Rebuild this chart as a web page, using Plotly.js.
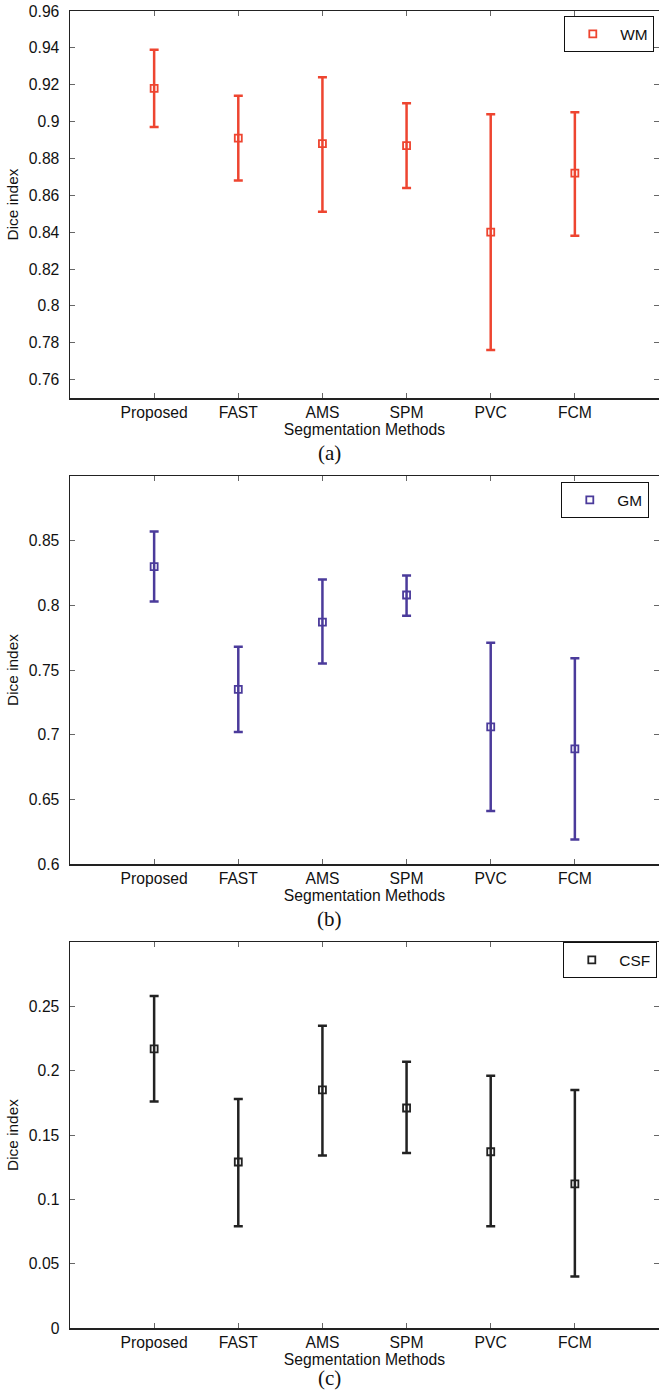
<!DOCTYPE html>
<html>
<head>
<meta charset="utf-8">
<script src="https://cdn.plot.ly/plotly-3.0.1.min.js"></script>
<style>
html,body{margin:0;padding:0;background:#fff;overflow:hidden;}
#chart{width:659px;height:1393px;}
</style>
</head>
<body>
<div id="chart"></div>
<script>
const methods = ["Proposed", "FAST", "AMS", "SPM", "PVC", "FCM"];

const wmMean  = [0.918, 0.891, 0.888, 0.887, 0.840, 0.872];
const wmUpper = [0.939, 0.914, 0.924, 0.910, 0.904, 0.905];
const wmLower = [0.897, 0.868, 0.851, 0.864, 0.776, 0.838];

const gmMean  = [0.830, 0.735, 0.787, 0.808, 0.706, 0.689];
const gmUpper = [0.857, 0.768, 0.820, 0.823, 0.771, 0.759];
const gmLower = [0.803, 0.702, 0.755, 0.792, 0.641, 0.619];

const csfMean  = [0.217, 0.129, 0.185, 0.171, 0.137, 0.112];
const csfUpper = [0.258, 0.178, 0.235, 0.207, 0.196, 0.185];
const csfLower = [0.176, 0.079, 0.134, 0.136, 0.079, 0.040];

const wmTicks  = [0.76, 0.78, 0.8, 0.82, 0.84, 0.86, 0.88, 0.9, 0.92, 0.94, 0.96];
const gmTicks  = [0.6, 0.65, 0.7, 0.75, 0.8, 0.85];
const csfTicks = [0, 0.05, 0.1, 0.15, 0.2, 0.25];

const sans = "Liberation Sans, Arial, sans-serif";
const FS = 15.7;

function trace(name, mean, up, lo, color, xa, ya, leg) {
  return {
    type: "scatter", mode: "markers", name: name,
    x: methods, y: mean, xaxis: xa, yaxis: ya, legend: leg,
    marker: {symbol: "square-open", size: 7, color: color, line: {width: 1.8, color: color}},
    error_y: {
      type: "data", symmetric: false,
      array: up.map((u, i) => u - mean[i]),
      arrayminus: lo.map((l, i) => mean[i] - l),
      color: color, thickness: 2.5, width: 4.5
    },
    showlegend: true
  };
}

const data = [
  trace("WM", wmMean, wmUpper, wmLower, "#ee4530", "x", "y", "legend"),
  trace("GM", gmMean, gmUpper, gmLower, "#4b3b9b", "x2", "y2", "legend2"),
  trace("CSF", csfMean, csfUpper, csfLower, "#222222", "x3", "y3", "legend3")
];

const H = 1393, W = 659;
function ydom(top, bottom) { return [(H - bottom) / H, (H - top) / H]; }

function xax(anchor) {
  return {
    type: "category", range: [-1, 6.0], domain: [70 / W, 1], anchor: anchor,
    showline: true, linecolor: "#222", linewidth: 1.5, mirror: "ticks",
    ticks: "inside", ticklen: 5, tickcolor: "#666", tickwidth: 1,
    showgrid: false, zeroline: false, automargin: false,
    tickfont: {family: sans, size: FS, color: "#111"},
    title: {text: "Segmentation Methods", font: {family: sans, size: FS, color: "#111"}, standoff: 0}
  };
}
function yax(anchor, dom, range, tv) {
  return {
    domain: dom, range: range, anchor: anchor,
    tickvals: tv,
    showline: true, linecolor: "#222", linewidth: 1.5, mirror: "ticks",
    ticks: "inside", ticklen: 5, tickcolor: "#666", tickwidth: 1,
    showgrid: false, zeroline: false, automargin: false,
    ticklabelstandoff: 6,
    tickfont: {family: sans, size: FS, color: "#111"},
    title: {text: "Dice index", font: {family: sans, size: 15.4, color: "#111"}, standoff: 6}
  };
}

const legBase = {
  bgcolor: "#fff", bordercolor: "#111", borderwidth: 1.3,
  font: {family: sans, size: 15.4, color: "#111"},
  xanchor: "right", yanchor: "top", itemclick: false, itemwidth: 45
};

const layout = {
  width: W, height: H,
  margin: {l: 0, r: 0, t: 0, b: 0},
  paper_bgcolor: "#fff", plot_bgcolor: "#fff",
  xaxis: xax("y"), yaxis: yax("x", ydom(11, 398), [0.75, 0.96], wmTicks),
  xaxis2: xax("y2"), yaxis2: yax("x2", ydom(476, 864), [0.6, 0.9], gmTicks),
  xaxis3: xax("y3"), yaxis3: yax("x3", ydom(942, 1328), [0, 0.3], csfTicks),
  legend: Object.assign({}, legBase, {x: 654 / W, y: (H - 16) / H}),
  legend2: Object.assign({}, legBase, {x: 649 / W, y: (H - 482) / H}),
  legend3: Object.assign({}, legBase, {x: 657 / W, y: (H - 942) / H}),
  annotations: [
    {text: "(a)", x: 0.5, y: (H - 453) / H, yanchor: "middle"},
    {text: "(b)", x: 0.5, y: (H - 919) / H, yanchor: "middle"},
    {text: "(c)", x: 0.5, y: 1 / H, yanchor: "bottom"}
  ].map(a => Object.assign(a, {
    xref: "paper", yref: "paper", showarrow: false, xanchor: "center",
    font: {family: "Liberation Serif, Times New Roman, serif", size: 21, color: "#111"}
  }))
};

Plotly.newPlot("chart", data, layout, {displayModeBar: false, staticPlot: true});
</script>
</body>
</html>
